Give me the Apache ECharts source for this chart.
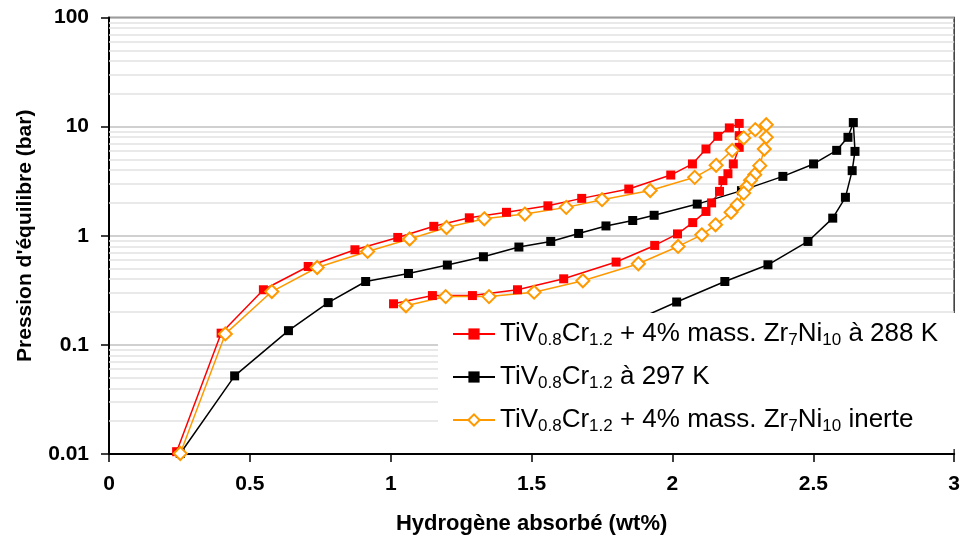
<!DOCTYPE html>
<html>
<head>
<meta charset="utf-8">
<script src="https://cdn.jsdelivr.net/npm/echarts@6/dist/echarts.min.js"></script>
<style>
html,body{margin:0;padding:0;background:#fff;}
#chart{width:963px;height:543px;}
</style>
</head>
<body>
<div id="chart"></div>
<script>
// TiV0.8Cr1.2 + 4% mass. Zr7Ni10 à 288 K  (absorption then desorption)
const seriesRed = [
  [0.24,0.0105],[0.398,0.128],[0.548,0.32],[0.707,0.523],[0.873,0.744],[1.025,0.965],
  [1.153,1.22],[1.279,1.46],[1.411,1.64],[1.558,1.88],[1.678,2.2],[1.845,2.68],
  [1.994,3.6],[2.071,4.55],[2.119,6.24],[2.161,8.15],[2.202,9.73],[2.237,10.7],
  [2.237,8.27],[2.237,6.46],[2.216,4.55],[2.197,3.7],[2.179,3.2],[2.167,2.55],
  [2.139,2.0],[2.119,1.67],[2.072,1.32],[2.018,1.04],[1.937,0.815],[1.8,0.574],
  [1.614,0.403],[1.45,0.32],[1.29,0.283],[1.148,0.283],[1.01,0.238]
];
// TiV0.8Cr1.2 à 297 K
const seriesBlack = [
  [0.253,0.0101],[0.446,0.052],[0.637,0.135],[0.778,0.244],[0.911,0.381],[1.063,0.451],
  [1.201,0.539],[1.329,0.642],[1.455,0.788],[1.568,0.887],[1.667,1.05],[1.764,1.23],
  [1.859,1.38],[1.935,1.54],[2.088,1.95],[2.245,2.59],[2.392,3.5],[2.501,4.55],
  [2.583,6.06],[2.623,7.98],[2.642,10.9],[2.648,5.93],[2.638,3.95],[2.614,2.25],
  [2.569,1.45],[2.481,0.887],[2.339,0.542],[2.186,0.381],[2.015,0.247],[1.8,0.14]
];
// TiV0.8Cr1.2 + 4% mass. Zr7Ni10 inerte
const seriesOrange = [
  [0.253,0.0101],[0.413,0.126],[0.578,0.308],[0.739,0.512],[0.918,0.718],[1.067,0.933],
  [1.198,1.19],[1.332,1.43],[1.476,1.58],[1.623,1.82],[1.75,2.14],[1.921,2.6],
  [2.079,3.43],[2.155,4.42],[2.212,6.06],[2.253,7.88],[2.294,9.38],[2.333,10.4],
  [2.333,7.98],[2.326,6.24],[2.31,4.39],[2.292,3.63],[2.277,3.22],[2.263,2.8],
  [2.253,2.46],[2.23,1.92],[2.208,1.64],[2.153,1.26],[2.104,1.02],[2.02,0.798],
  [1.879,0.554],[1.682,0.387],[1.509,0.304],[1.349,0.277],[1.195,0.277],[1.054,0.228]
];
const minorGridValues = [
  0.02,0.03,0.04,0.05,0.06,0.07,0.08,0.09,
  0.2,0.3,0.4,0.5,0.6,0.7,0.8,0.9,
  2,3,4,5,6,7,8,9,
  20,30,40,50,60,70,80,90
];
const legendNames = ['s288', 's297', 'sInerte'];
const legendLabels = {
  s288: '{m|TiV}{s|0.8}{m|Cr}{s|1.2}{m| + 4% mass. Zr}{s|7}{m|Ni}{s|10}{m| à 288 K}',
  s297: '{m|TiV}{s|0.8}{m|Cr}{s|1.2}{m| à 297 K}',
  sInerte: '{m|TiV}{s|0.8}{m|Cr}{s|1.2}{m| + 4% mass. Zr}{s|7}{m|Ni}{s|10}{m| inerte}'
};

const FONT = '"Liberation Sans", Arial, sans-serif';
const chart = echarts.init(document.getElementById('chart'), null, {renderer: 'canvas'});
chart.setOption({
  animation: false,
  backgroundColor: '#ffffff',
  grid: {
    left: 109, right: 5, top: 17.5, bottom: 89,
    show: true, borderColor: '#333333', borderWidth: 1.5, containLabel: false
  },
  xAxis: {
    type: 'value', min: 0, max: 3, interval: 0.5,
    name: 'Hydrogène absorbé (wt%)', nameLocation: 'middle', nameGap: 59,
    nameTextStyle: {fontFamily: FONT, fontWeight: 'bold', fontSize: 22, color: '#000'},
    axisLine: {show: true, onZero: false, lineStyle: {color: '#000', width: 2}},
    axisTick: {show: true, inside: false, length: 8, lineStyle: {color: '#000', width: 1.5}},
    axisLabel: {fontFamily: FONT, fontWeight: 'bold', fontSize: 21, color: '#000', margin: 20},
    splitLine: {show: false}
  },
  yAxis: {
    type: 'log', logBase: 10, min: 0.01, max: 100,
    name: "Pression d'équilibre (bar)", nameLocation: 'middle', nameGap: 73,
    nameTextStyle: {fontFamily: FONT, fontWeight: 'bold', fontSize: 21, color: '#000'},
    axisLine: {show: true, lineStyle: {color: '#000', width: 2}},
    axisTick: {show: true, inside: false, length: 8, lineStyle: {color: '#000', width: 1.5}},
    axisLabel: {fontFamily: FONT, fontWeight: 'bold', fontSize: 21, color: '#000', margin: 20},
    splitLine: {show: true, lineStyle: {color: '#c0c0c0', width: 1.5}}
  },
  legend: {
    data: legendNames,
    orient: 'vertical',
    left: 438, top: 313,
    z: 10,
    backgroundColor: '#ffffff',
    padding: [8, 24, 14, 14],
    itemGap: 15,
    itemWidth: 42, itemHeight: 14,
    formatter: function (name) { return legendLabels[name]; },
    textStyle: {
      color: '#000',
      rich: {
        m: {fontFamily: FONT, fontSize: 26, lineHeight: 30, color: '#000'},
        s: {fontFamily: FONT, fontSize: 17, lineHeight: 14, verticalAlign: 'bottom', color: '#000'}
      }
    }
  },
  series: [
    {
      name: 'minorGrid', type: 'line', data: [], z: 1, silent: true,
      markLine: {
        z: 1,
        silent: true, symbol: 'none', animation: false,
        label: {show: false},
        lineStyle: {color: '#e2e2e2', width: 1.5, type: 'solid'},
        emphasis: {disabled: true},
        data: minorGridValues.map(v => ({yAxis: v}))
      }
    },
    {
      name: 's288', type: 'line', data: seriesRed, z: 3,
      symbol: 'rect', symbolSize: 9,
      itemStyle: {color: '#ff0000'},
      lineStyle: {color: '#ff0000', width: 1.5}
    },
    {
      name: 's297', type: 'line', data: seriesBlack, z: 3,
      symbol: 'rect', symbolSize: 9,
      itemStyle: {color: '#000000'},
      lineStyle: {color: '#000000', width: 1.5}
    },
    {
      name: 'sInerte', type: 'line', data: seriesOrange, z: 3,
      symbol: 'emptyDiamond', symbolSize: 13,
      itemStyle: {color: '#ff9900', borderWidth: 1.5},
      lineStyle: {color: '#ff9900', width: 1.5}
    }
  ]
});
</script>
</body>
</html>
